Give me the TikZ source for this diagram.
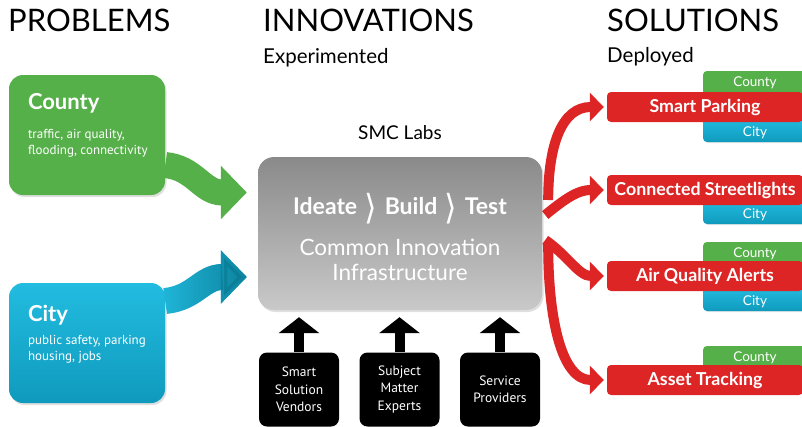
\documentclass[tikz,border=0pt]{standalone}
\usepackage{fontspec}
\usepackage{graphicx}
\setmainfont{Lato}
\newfontfamily\ptsans{PT Sans}
\newfontfamily\dejavu{DejaVu Sans}
\usetikzlibrary{arrows.meta,shadows,calc,fadings}

\definecolor{probgreen}{HTML}{56B04A}
\definecolor{citytop}{HTML}{22BCE0}
\definecolor{citybot}{HTML}{0F9ABD}
\definecolor{cityteal}{HTML}{0A7B95}
\definecolor{solred}{HTML}{DE2525}
\definecolor{labtop}{HTML}{8A8A8A}
\definecolor{labbot}{HTML}{C9C9C9}

\tikzfading[name=tealfade, left color=transparent!100, right color=transparent!0]
\newcommand\chev{\hspace{7pt}\raisebox{-0.2em}{\scalebox{1.4}[1.5]{\dejavu\mdseries ⟩}}\hspace{8pt}}

\begin{document}
\begin{tikzpicture}[x=1pt,y=-1pt,
    heading/.style={anchor=base west,inner sep=0pt,font=\fontsize{31}{31}\selectfont},
    subheading/.style={anchor=base west,inner sep=0pt,font=\fontsize{20.5}{20.5}\selectfont},
    probbox/.style={rounded corners=14pt,minimum width=156pt,minimum height=120pt,
        drop shadow={opacity=0.25,shadow xshift=1.5pt,shadow yshift=-2pt}},
    probtitle/.style={anchor=base west,inner sep=0pt,text=white,font=\bfseries\fontsize{22}{22}\selectfont},
    probtext/.style={anchor=base west,inner sep=0pt,text=white,align=left,font=\ptsans\fontsize{13}{16}\selectfont},
    bigarrow/.style={line width=26pt,-{Triangle[width=52pt,length=26pt]}},
    labtext/.style={anchor=base,inner sep=0pt,text=white,align=center},
    partner/.style={fill=black,rounded corners=8pt,minimum width=80pt,minimum height=74pt,
        text=white,align=center,font=\ptsans\fontsize{13.5}{17.5}\selectfont},
    uparrow/.style={line width=10pt,-{Triangle[width=40pt,length=16pt]}},
    solbox/.style={fill=solred,rounded corners=4pt,minimum width=196pt,minimum height=30pt,
        inner sep=0pt,text=white,font=\bfseries\fontsize{17.8}{17.8}\selectfont},
    solntab/.style={rounded corners=4pt,minimum width=104pt,minimum height=24pt,inner sep=0pt,
        text=white,font=\fontsize{13.5}{13.5}\selectfont,drop shadow={opacity=0.2,shadow xshift=1pt,shadow yshift=-1pt}},
    countytab/.style={solntab,fill=probgreen},
    citytab/.style={solntab,top color=citytop,bottom color=citybot,text height=13.6pt,text depth=0pt},
    solarrow/.style={draw=solred,line width=10pt,shorten >=3pt,-{Triangle[width=28pt,length=14pt]}}
  ]
  \useasboundingbox (0,0) rectangle (802,426);

  \node[heading] (problems) at (8,31) {PROBLEMS};
  \node[heading] (innovations) at (263,31) {INNOVATIONS};
  \node[heading] (solutions) at (607,31) {SOLUTIONS};
  \node[subheading] (experimented) at (263,63) {Experimented};
  \node[subheading] (deployed) at (607,62) {Deployed};

  % problems
  \node[probbox,fill=probgreen] (county) at (87,135) {};
  \node[probtitle] (countyhead) at ($(county.north west)+(19,35)$) {County};
  \node[probtext] (countytext) at ($(county.north west)+(19,80)$) {traffic, air quality,\\flooding, connectivity};
  \node[probbox,top color=citytop,bottom color=citybot] (city) at (87,343) {};
  \node[probtitle] (cityhead) at ($(city.north west)+(19,39)$) {City};
  \node[probtext] (citytext) at ($(city.north west)+(19,78)$) {public safety, parking\\housing, jobs};

  % innovations
  \node[rounded corners=16pt,top color=labtop,bottom color=labbot,minimum width=284pt,minimum height=153pt,
    drop shadow={opacity=0.25,shadow xshift=1.5pt,shadow yshift=-2pt}] (labs) at (400,233.5) {};
  \node[anchor=base,inner sep=0pt,font=\fontsize{19}{19}\selectfont] (smclabs) at ($(labs.north)+(0,-17)$) {SMC Labs};
  \node[labtext,font=\bfseries\fontsize{23}{23}\selectfont] (steps) at ($(labs.north)+(0,58)$) {Ideate\chev Build\chev Test};
  \node[labtext,font=\fontsize{22.5}{25}\selectfont] (infra) at ($(labs.north)+(0,124)$) {Common Innovation\\Infrastructure};

  \draw[bigarrow,draw=probgreen] ([yshift=-30pt]county.east) .. controls +(30,3) and +(-45,0) .. ([xshift=-11pt,yshift=41pt]labs.west);
  \draw[bigarrow,draw=citytop,postaction={draw=cityteal,path fading=tealfade}] ([yshift=42pt]city.east) .. controls +(30,-3) and +(-45,0) .. ([xshift=-11pt,yshift=-43.5pt]labs.west);

  \node[partner] (vendors) at (299,389.5) {Smart\\Solution\\Vendors};
  \node[partner] (experts) at (399.5,389.5) {Subject\\Matter\\Experts};
  \node[partner] (providers) at (500,389.5) {Service\\Providers};
  \foreach \p in {vendors,experts,providers}
    \draw[uparrow] (\p.north) -- ($(\p.north |- labs.south)+(0,7)$);

  % solutions
  \node[countytab] (parkcounty) at (755,83) {County};
  \node[citytab] (parkcity) at (755,130) {City};
  \node[citytab] (lightcity) at (755,212) {City};
  \node[countytab] (aircounty) at (755,254) {County};
  \node[citytab] (aircity) at (755,299) {City};
  \node[countytab] (assetcounty) at (755,358) {County};

  \node[solbox] (parking) at (705,107) {Smart Parking};
  \node[solbox] (lights) at (705,190) {Connected Streetlights};
  \node[solbox] (airquality) at (705,276) {Air Quality Alerts};
  \node[solbox] (asset) at (705,380) {Asset Tracking};

  \draw[solarrow] ([xshift=6pt,yshift=33.5pt]labs.east) .. controls +(0,-55) and +(-45,0) .. (parking.west);
  \draw[solarrow] ([xshift=3pt,yshift=18.5pt]labs.east) .. controls +(22,-18) and +(-28,0) .. (lights.west);
  \draw[solarrow] ([xshift=3pt,yshift=-6.5pt]labs.east) .. controls +(22,15) and +(-28,0) .. (airquality.west);
  \draw[solarrow] ([xshift=6pt,yshift=-11.5pt]labs.east) .. controls +(0,75) and +(-45,0) .. (asset.west);
\end{tikzpicture}
\end{document}
